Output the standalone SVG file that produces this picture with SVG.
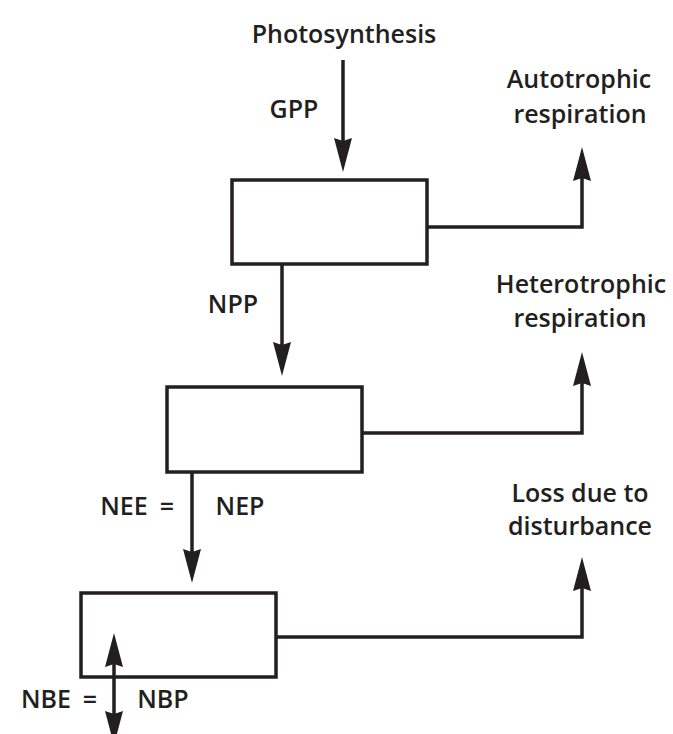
<svg xmlns="http://www.w3.org/2000/svg" width="673" height="734" viewBox="0 0 673 734">
<style>
.box{fill:#fff;stroke:#231f20;stroke-width:3.5}
.con{fill:none;stroke:#231f20;stroke-width:3.5;marker-end:url(#ah)}
.lbl{font-family:"Open Sans","DejaVu Sans",sans-serif;font-size:25px;font-weight:600;fill:#231f20;text-anchor:middle}
</style>
<defs>
<marker id="ah" viewBox="0 0 34 18" refX="24" refY="9" markerWidth="34" markerHeight="18" orient="auto" markerUnits="userSpaceOnUse">
<path d="M0,0 L34,9 L0,18 L3,9 z" fill="#231f20"/>
</marker>
<marker id="ahs" viewBox="0 0 34 18" refX="24" refY="9" markerWidth="34" markerHeight="18" orient="auto-start-reverse" markerUnits="userSpaceOnUse">
<path d="M0,0 L34,9 L0,18 L3,9 z" fill="#231f20"/>
</marker>
</defs>
<g id="nodes">
<g id="plant"><rect class="box" x="232" y="180" width="195" height="84"/></g>
<g id="ecosystem"><rect class="box" x="167" y="387" width="195" height="85"/></g>
<g id="biome"><rect class="box" x="81" y="593" width="195" height="84"/></g>
<g id="photosynthesis"><text class="lbl" x="344" y="43">Photosynthesis</text></g>
<g id="autotrophic"><text class="lbl" x="579" y="88">Autotrophic</text><text class="lbl" x="580" y="123">respiration</text></g>
<g id="heterotrophic"><text class="lbl" x="581" y="293">Heterotrophic</text><text class="lbl" x="580" y="327">respiration</text></g>
<g id="disturbance"><text class="lbl" x="580" y="502">Loss due to</text><text class="lbl" x="580" y="535">disturbance</text></g>
</g>
<g id="connectors">
<line class="con" x1="343" y1="60" x2="343" y2="162"/>
<path class="con" d="M427,227 H582 V157"/>
<line class="con" x1="282" y1="264" x2="282" y2="366"/>
<path class="con" d="M362,433 H582 V362"/>
<line class="con" x1="192" y1="472" x2="192" y2="573"/>
<path class="con" d="M276,637 H582 V567"/>
<line x1="114" y1="643" x2="114" y2="735" stroke="#231f20" stroke-width="3.5" marker-start="url(#ahs)" marker-end="url(#ah)"/>
</g>
<g id="labels">
<text class="lbl" x="294" y="118">GPP</text>
<text class="lbl" x="233" y="313">NPP</text>
<text class="lbl" x="124" y="515">NEE</text>
<text class="lbl" x="167" y="515">=</text>
<text class="lbl" x="240" y="515">NEP</text>
<text class="lbl" x="46" y="708">NBE</text>
<text class="lbl" x="90" y="708">=</text>
<text class="lbl" x="163" y="708">NBP</text>
</g>
</svg>
